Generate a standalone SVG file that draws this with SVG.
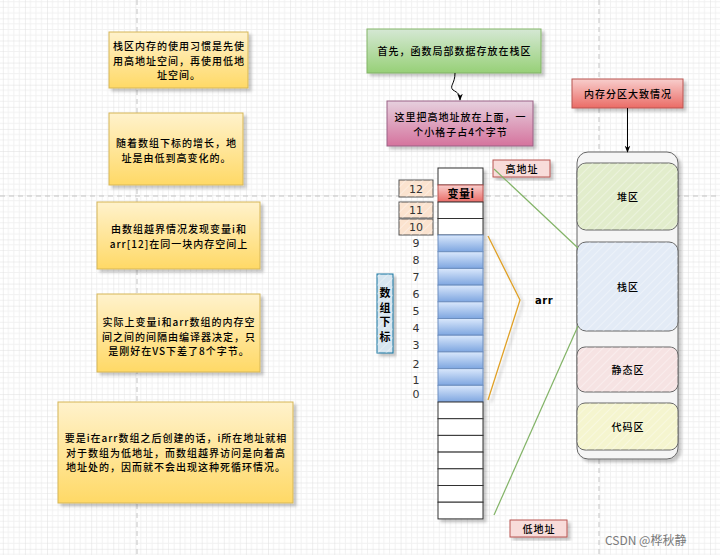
<svg xmlns="http://www.w3.org/2000/svg" width="720" height="555" viewBox="0 0 720 555">
<defs>
  <pattern id="grid" x="2.8" y="18.4" width="22.1" height="22.1" patternUnits="userSpaceOnUse">
    <path d="M5.5 0V22.1M11.05 0V22.1M16.6 0V22.1M0 5.5H22.1M0 11.05H22.1M0 16.6H22.1" stroke="#f1f1f1" stroke-width="1" fill="none"/>
    <path d="M0 0V22.1M0 0H22.1" stroke="#dedede" stroke-width="1" fill="none"/>
  </pattern>
  <pattern id="hatch" width="6" height="6" patternUnits="userSpaceOnUse" patternTransform="rotate(45)">
    <line x1="0" y1="0" x2="0" y2="6" stroke="#ffffff" stroke-opacity="0.45" stroke-width="1.5"/>
  </pattern>
  <linearGradient id="gYellow" x1="0" y1="0" x2="0" y2="1">
    <stop offset="0" stop-color="#fff2cc"/><stop offset="1" stop-color="#ffd966"/>
  </linearGradient>
  <linearGradient id="gGreen" x1="0" y1="0" x2="0" y2="1">
    <stop offset="0" stop-color="#d5e8d4"/><stop offset="1" stop-color="#97d077"/>
  </linearGradient>
  <linearGradient id="gPink" x1="0" y1="0" x2="0" y2="1">
    <stop offset="0" stop-color="#e6d0de"/><stop offset="1" stop-color="#d5739d"/>
  </linearGradient>
  <linearGradient id="gRed" x1="0" y1="0" x2="0" y2="1">
    <stop offset="0" stop-color="#f8cecc"/><stop offset="1" stop-color="#ea6b66"/>
  </linearGradient>
  <linearGradient id="gBlue" x1="0" y1="0" x2="0" y2="1">
    <stop offset="0" stop-color="#dae8fc"/><stop offset="1" stop-color="#7ea6e0"/>
  </linearGradient>
  <filter id="shadow" x="-20%" y="-20%" width="140%" height="140%">
    <feDropShadow dx="3" dy="3" stdDeviation="1.5" flood-color="#000" flood-opacity="0.22"/>
  </filter>
  <marker id="arrow" viewBox="0 0 10 10" refX="9" refY="5" markerWidth="7" markerHeight="7" orient="auto" markerUnits="userSpaceOnUse">
    <path d="M0 1 L10 5 L0 9 L3 5 Z" fill="#000"/>
  </marker>
  <style>
    text { font-family: "Noto Sans CJK SC", "Liberation Sans", sans-serif; font-size: 10px; letter-spacing: 1px; fill: #000; font-weight: 500; }
    .c { text-anchor: middle; }
    .b { font-weight: bold; }
    .note { fill: url(#gYellow); stroke: #d6b656; stroke-width: 1; filter: url(#shadow); }
    .cellw { fill: #ffffff; stroke: #333333; stroke-width: 1; }
    .cellb { fill: url(#gBlue); stroke: #6c8ebf; stroke-width: 1; }
    .idx { fill: #fbe3cf; stroke: #555555; stroke-width: 1; }
    .num { font-family: "DejaVu Sans", sans-serif; font-size: 11px; letter-spacing: 0; font-weight: normal; fill: #333; text-anchor: middle; }
    .lbl { fill: #f8dcda; stroke: #b85450; stroke-width: 1; filter: url(#shadow); }
    .zone { stroke: #666666; stroke-width: 1; }
    .dash { stroke: #c4c4c4; stroke-width: 1; stroke-dasharray: 5 4; fill: none; }
  </style>
</defs>

<rect width="720" height="555" fill="#ffffff"/>
<rect width="720" height="555" fill="url(#grid)"/>
<g id="page-breaks">
  <line class="dash" x1="137" y1="0" x2="137" y2="555"/>
  <line class="dash" x1="599" y1="0" x2="599" y2="555"/>
  <line class="dash" x1="0" y1="196" x2="720" y2="196"/>
</g>

<g id="note1">
  <rect class="note" x="109" y="32" width="139" height="56"/>
  <text class="c" x="179" y="50">栈区内存的使用习惯是先使</text>
  <text class="c" x="179" y="64.5">用高地址空间，再使用低地</text>
  <text class="c" x="179" y="79">址空间。</text>
</g>
<g id="note2">
  <rect class="note" x="109" y="113" width="134" height="72"/>
  <text class="c" x="176.5" y="147">随着数组下标的增长，地</text>
  <text class="c" x="176.5" y="161.5">址是由低到高变化的。</text>
</g>
<g id="note3">
  <rect class="note" x="97" y="202" width="163" height="67"/>
  <text class="c" x="179" y="233">由数组越界情况发现变量i和</text>
  <text class="c" x="179" y="247.5">arr[12]在同一块内存空间上</text>
</g>
<g id="note4">
  <rect class="note" x="97" y="294" width="163" height="78"/>
  <text class="c" x="179" y="326">实际上变量i和arr数组的内存空</text>
  <text class="c" x="179" y="340.5">间之间的间隔由编译器决定，只</text>
  <text class="c" x="179" y="355">是刚好在VS下差了8个字节。</text>
</g>
<g id="note5">
  <rect class="note" x="58" y="402" width="235" height="101"/>
  <text class="c" x="176" y="442">要是i在arr数组之后创建的话，i所在地址就相</text>
  <text class="c" x="176" y="456.5">对于数组为低地址，而数组越界访问是向着高</text>
  <text class="c" x="176" y="471">地址处的，因而就不会出现这种死循环情况。</text>
</g>

<g id="start">
  <rect x="367" y="29" width="174" height="44" fill="url(#gGreen)" stroke="#82b366" filter="url(#shadow)"/>
  <text class="c" x="454.5" y="55">首先，函数局部数据存放在栈区</text>
</g>
<g id="pinknote">
  <rect x="387" y="101" width="146" height="45" fill="url(#gPink)" stroke="#996185" filter="url(#shadow)"/>
  <text class="c" x="460.5" y="121">这里把高地址放在上面，一</text>
  <text class="c" x="460.5" y="135.5">个小格子占4个字节</text>
</g>

<g id="memory" filter="url(#shadow)">
  <rect class="cellw" x="438" y="168" width="45" height="17"/>
  <rect x="438" y="185" width="45" height="17" fill="url(#gRed)" stroke="#b85450"/>
  <rect class="cellw" x="438" y="202" width="45" height="16.5"/>
  <rect class="cellw" x="438" y="218.5" width="45" height="16.5"/>
  <rect class="cellb" x="438" y="235" width="45" height="16.7"/>
  <rect class="cellb" x="438" y="251.7" width="45" height="16.7"/>
  <rect class="cellb" x="438" y="268.4" width="45" height="16.7"/>
  <rect class="cellb" x="438" y="285.1" width="45" height="16.7"/>
  <rect class="cellb" x="438" y="301.8" width="45" height="16.7"/>
  <rect class="cellb" x="438" y="318.5" width="45" height="16.7"/>
  <rect class="cellb" x="438" y="335.2" width="45" height="16.7"/>
  <rect class="cellb" x="438" y="351.9" width="45" height="16.7"/>
  <rect class="cellb" x="438" y="368.6" width="45" height="16.7"/>
  <rect class="cellb" x="438" y="385.3" width="45" height="16.7"/>
  <rect class="cellw" x="438" y="402" width="45" height="16.7"/>
  <rect class="cellw" x="438" y="418.7" width="45" height="16.7"/>
  <rect class="cellw" x="438" y="435.4" width="45" height="16.7"/>
  <rect class="cellw" x="438" y="452.1" width="45" height="16.7"/>
  <rect class="cellw" x="438" y="468.8" width="45" height="16.7"/>
  <rect class="cellw" x="438" y="485.5" width="45" height="16.7"/>
  <rect class="cellw" x="438" y="502.2" width="45" height="16.7"/>
</g>
<text class="c b" x="461" y="197.5" style="font-size:11px;letter-spacing:0.5px">变量i</text>

<g id="index">
  <rect class="idx" x="399" y="180" width="34" height="17"/>
  <rect x="399" y="180" width="34" height="17" fill="url(#hatch)"/>
  <text class="num" x="416" y="192.5">12</text>
  <rect class="idx" x="399" y="202" width="34" height="16"/>
  <rect x="399" y="202" width="34" height="16" fill="url(#hatch)"/>
  <text class="num" x="416" y="214">11</text>
  <rect class="idx" x="399" y="219" width="34" height="16"/>
  <rect x="399" y="219" width="34" height="16" fill="url(#hatch)"/>
  <text class="num" x="416" y="231">10</text>
  <text class="num" x="416" y="247">9</text>
  <text class="num" x="416" y="264">8</text>
  <text class="num" x="416" y="281">7</text>
  <text class="num" x="416" y="298">6</text>
  <text class="num" x="416" y="315">5</text>
  <text class="num" x="416" y="332">4</text>
  <text class="num" x="416" y="349">3</text>
  <text class="num" x="416" y="368">2</text>
  <text class="num" x="416" y="384">1</text>
  <text class="num" x="416" y="398">0</text>
</g>

<g id="subscript-label">
  <rect x="377" y="274" width="16" height="79" fill="#d7e6f0" stroke="#10739e" filter="url(#shadow)"/>
  <rect x="377" y="274" width="16" height="79" fill="url(#hatch)"/>
  <text class="c b" x="385" y="297" style="font-size:11px;letter-spacing:0">数</text>
  <text class="c b" x="385" y="311.5" style="font-size:11px;letter-spacing:0">组</text>
  <text class="c b" x="385" y="326" style="font-size:11px;letter-spacing:0">下</text>
  <text class="c b" x="385" y="340.5" style="font-size:11px;letter-spacing:0">标</text>
</g>

<g id="high-addr">
  <rect class="lbl" x="493" y="160" width="57" height="17"/>
  <text class="c" x="522" y="172.5">高地址</text>
</g>
<g id="low-addr">
  <rect class="lbl" x="510" y="520" width="57" height="17"/>
  <text class="c" x="539" y="532.5">低地址</text>
</g>

<g id="arr-label">
  <text class="b" x="535" y="304" style="font-family:'DejaVu Sans',sans-serif;letter-spacing:0.5px">arr</text>
</g>

<g id="title-zones">
  <rect x="572" y="79" width="111" height="29" fill="url(#gRed)" stroke="#b85450" filter="url(#shadow)"/>
  <text class="c" x="628" y="98">内存分区大致情况</text>
</g>

<g id="memory-zones">
  <rect class="zone" x="577" y="152" width="101" height="307" rx="11" fill="#f5f5f5" filter="url(#shadow)"/>
  <g id="heap">
    <rect class="zone" x="577" y="163" width="101" height="67" rx="9" fill="#e2edcc"/>
    <rect x="577" y="163" width="101" height="67" rx="9" fill="url(#hatch)"/>
    <text class="c" x="628" y="201">堆区</text>
  </g>
  <g id="stack">
    <rect class="zone" x="577" y="242" width="101" height="89" rx="9" fill="#e3ebf6"/>
    <rect x="577" y="242" width="101" height="89" rx="9" fill="url(#hatch)"/>
    <text class="c" x="628" y="291">栈区</text>
  </g>
  <g id="static">
    <rect class="zone" x="577" y="347" width="101" height="45" rx="8" fill="#f6e3e3"/>
    <rect x="577" y="347" width="101" height="45" rx="8" fill="url(#hatch)"/>
    <text class="c" x="628" y="374">静态区</text>
  </g>
  <g id="code">
    <rect class="zone" x="577" y="403" width="101" height="47" rx="8" fill="#f5f5cf"/>
    <rect x="577" y="403" width="101" height="47" rx="8" fill="url(#hatch)"/>
    <text class="c" x="628" y="431">代码区</text>
  </g>
</g>

<g id="connectors" fill="none">
  <path d="M455 73 C455 84 449 86 453 90 C458 93 460 94 460 100" stroke="#000" stroke-width="1" marker-end="url(#arrow)"/>
  <line x1="627.5" y1="108" x2="627.5" y2="152" stroke="#000" stroke-width="1" marker-end="url(#arrow)"/>
  <line x1="494" y1="169" x2="578" y2="248" stroke="#82b366" stroke-width="1.2"/>
  <line x1="494" y1="515" x2="578" y2="326" stroke="#82b366" stroke-width="1.2"/>
  <path d="M488 236 L520 300 L488 400" stroke="#e0a128" stroke-width="1.3" filter="url(#shadow)"/>
</g>

<text x="605" y="545" style="font-size:12px;letter-spacing:0;font-weight:normal;fill:#7a7a7a">CSDN @桦秋静</text>
</svg>
